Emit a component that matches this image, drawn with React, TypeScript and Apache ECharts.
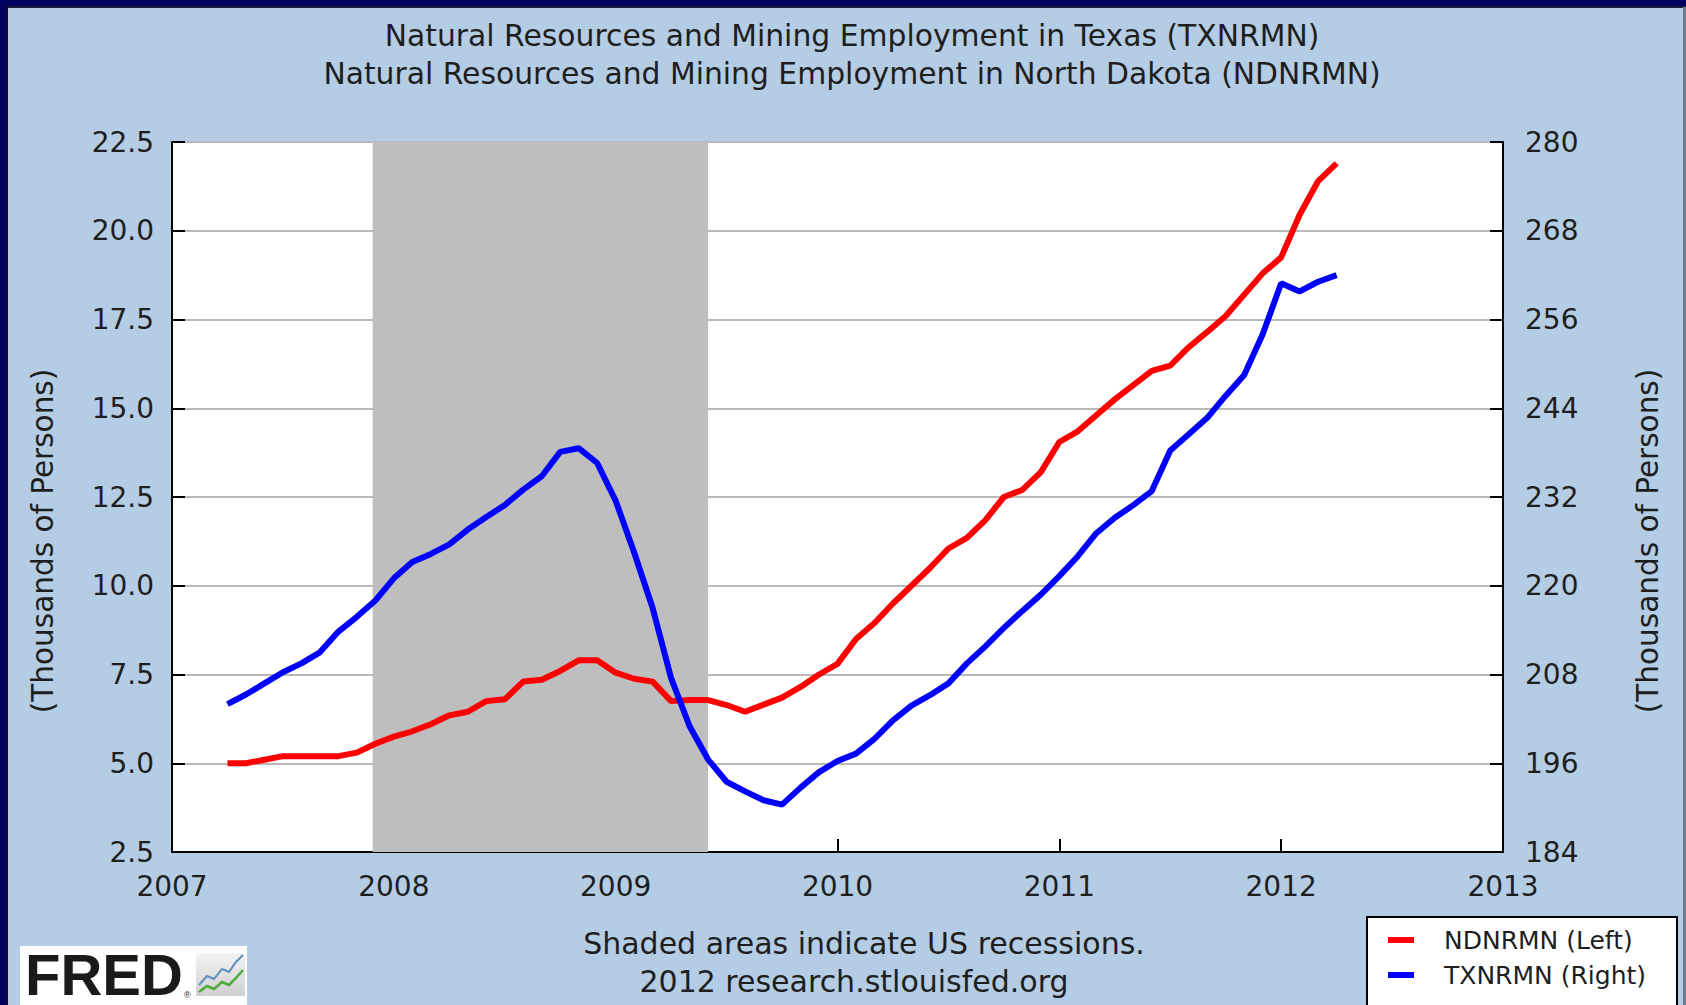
import React, { useEffect, useRef } from "react";
import * as echarts from "echarts";

// ---- data ----
const months = [
  "2007-04", "2007-05", "2007-06", "2007-07", "2007-08", "2007-09", "2007-10", "2007-11", "2007-12",
  "2008-01", "2008-02", "2008-03", "2008-04", "2008-05", "2008-06", "2008-07", "2008-08", "2008-09", "2008-10", "2008-11", "2008-12",
  "2009-01", "2009-02", "2009-03", "2009-04", "2009-05", "2009-06", "2009-07", "2009-08", "2009-09", "2009-10", "2009-11", "2009-12",
  "2010-01", "2010-02", "2010-03", "2010-04", "2010-05", "2010-06", "2010-07", "2010-08", "2010-09", "2010-10", "2010-11", "2010-12",
  "2011-01", "2011-02", "2011-03", "2011-04", "2011-05", "2011-06", "2011-07", "2011-08", "2011-09", "2011-10", "2011-11", "2011-12",
  "2012-01", "2012-02", "2012-03", "2012-04",
];

// North Dakota (left axis, thousands)
const ndnrmn = [
  5.0, 5.0, 5.1, 5.2, 5.2, 5.2, 5.2, 5.3, 5.55,
  5.75, 5.9, 6.1, 6.35, 6.45, 6.75, 6.8, 7.3, 7.35, 7.6, 7.9, 7.9,
  7.55, 7.38, 7.3, 6.75, 6.78, 6.78, 6.64, 6.45, 6.65, 6.85, 7.15, 7.5,
  7.8, 8.5, 8.95, 9.5, 10.0, 10.5, 11.05, 11.35, 11.85, 12.5, 12.7, 13.2,
  14.05, 14.35, 14.8, 15.25, 15.65, 16.05, 16.2, 16.72, 17.15, 17.6, 18.2, 18.8,
  19.25, 20.45, 21.4, 21.9,
];

// Texas (right axis, thousands)
const txnrmn = [
  204.0, 205.3, 206.8, 208.3, 209.5, 211.0, 213.8, 215.8, 218.0,
  221.0, 223.2, 224.3, 225.6, 227.6, 229.3, 230.9, 233.0, 234.8, 238.1, 238.6, 236.6,
  231.5, 224.5, 217.0, 207.5, 201.0, 196.5, 193.5, 192.2, 191.0, 190.4, 192.7, 194.8,
  196.3, 197.3, 199.3, 201.8, 203.8, 205.2, 206.8, 209.5, 211.8, 214.3, 216.6, 218.8,
  221.3, 224.0, 227.1, 229.2, 230.9, 232.8, 238.3, 240.5, 242.7, 245.7, 248.5, 254.0,
  260.9, 259.8, 261.1, 262.0,
];

const leftTicks = [2.5, 5.0, 7.5, 10.0, 12.5, 15.0, 17.5, 20.0, 22.5];
const rightTicks = [184, 196, 208, 220, 232, 244, 256, 268, 280];
const yearTicks = [2007, 2008, 2009, 2010, 2011, 2012, 2013];
const recession = ["2007-12", "2009-06"];

const titleLines = [
  "Natural Resources and Mining Employment in Texas (TXNRMN)",
  "Natural Resources and Mining Employment in North Dakota (NDNRMN)",
];
const axisTitle = "(Thousands of Persons)";
const footnote1 = "Shaded areas indicate US recessions.";
const footnote2 = "2012 research.stlouisfed.org";
const seriesNames = ["NDNRMN (Left)", "TXNRMN (Right)"];

const toYear = (s: string) => {
  const [y, m] = s.split("-").map(Number);
  return y + (m - 1) / 12;
};

const FONT = "DejaVu Sans";
const TXT = "#1e1e1e";

export default function App() {
  const ref = useRef<HTMLDivElement>(null);

  useEffect(() => {
    if (!ref.current) return;
    const chart = echarts.init(ref.current, null, { renderer: "svg" });

    const ndData = months.map((m, i) => [toYear(m), ndnrmn[i]]);
    const txData = months.map((m, i) => [toYear(m), txnrmn[i]]);

    const option: any = {
      animation: false,
      backgroundColor: "#B4CDE4",
      textStyle: { fontFamily: FONT },
      title: {
        text: titleLines.join("\n"),
        left: 852,
        textAlign: "center",
        top: 12,
        padding: [5, 0, 5, 0],
        textStyle: {
          fontFamily: FONT,
          fontSize: 29.8,
          fontWeight: "normal",
          color: TXT,
          lineHeight: 37.5,
        },
      },
      grid: {
        left: 172,
        right: 183,
        top: 142,
        bottom: 153,
        show: true,
        backgroundColor: "#ffffff",
        borderWidth: 0,
      },
      legend: {
        left: 1383,
        top: 921,
        orient: "vertical",
        itemWidth: 26,
        itemHeight: 6,
        itemGap: 7,
        icon: "rect",
        data: seriesNames,
        textStyle: {
          fontFamily: FONT,
          fontSize: 25,
          color: TXT,
          lineHeight: 28,
          padding: [0, 0, 0, 25],
        },
      },
      xAxis: {
        type: "value",
        min: yearTicks[0],
        max: yearTicks[yearTicks.length - 1],
        interval: 1,
        axisLine: { show: true, lineStyle: { color: "#000", width: 2 } },
        axisTick: { show: true, inside: true, length: 13, lineStyle: { color: "#000", width: 2 } },
        splitLine: { show: false },
        axisLabel: {
          margin: 20,
          fontFamily: FONT,
          fontSize: 28,
          color: TXT,
          formatter: (v: number) => String(Math.round(v)),
        },
      },
      yAxis: [
        {
          type: "value",
          position: "left",
          min: leftTicks[0],
          max: leftTicks[leftTicks.length - 1],
          interval: 2.5,
          name: axisTitle,
          nameLocation: "middle",
          nameRotate: 90,
          nameGap: 114,
          nameTextStyle: {
            fontFamily: FONT,
            fontSize: 29.5,
            color: TXT,
            padding: [0, 88, 0, 0],
          },
          axisLine: { show: true, lineStyle: { color: "#000", width: 2 } },
          axisTick: { show: true, inside: true, length: 13, lineStyle: { color: "#000", width: 2 } },
          splitLine: { show: true, lineStyle: { color: "#b9b9b9", width: 2 } },
          axisLabel: {
            margin: 18,
            fontFamily: FONT,
            fontSize: 28,
            color: TXT,
            formatter: (v: number) => v.toFixed(1),
          },
        },
        {
          type: "value",
          position: "right",
          min: rightTicks[0],
          max: rightTicks[rightTicks.length - 1],
          name: axisTitle,
          nameLocation: "middle",
          nameRotate: 90,
          nameGap: 130,
          nameTextStyle: {
            fontFamily: FONT,
            fontSize: 29.5,
            color: TXT,
            padding: [0, 88, 0, 0],
          },
          axisLine: { show: true, lineStyle: { color: "#000", width: 2 } },
          axisTick: {
            show: true,
            inside: true,
            length: 13,
            customValues: rightTicks,
            lineStyle: { color: "#000", width: 2 },
          },
          splitLine: { show: false },
          axisLabel: {
            margin: 22,
            fontFamily: FONT,
            fontSize: 28,
            color: TXT,
            customValues: rightTicks,
            formatter: (v: number) => String(v),
          },
        },
      ],
      series: [
        {
          name: "recession",
          type: "line",
          data: [],
          z: 1,
          silent: true,
          markArea: {
            silent: true,
            itemStyle: { color: "#BEBEBE" },
            data: [[{ xAxis: toYear(recession[0]) - 0.012 }, { xAxis: toYear(recession[1]) }]],
          },
        },
        {
          name: seriesNames[0],
          type: "line",
          yAxisIndex: 0,
          data: ndData,
          showSymbol: false,
          symbol: "none",
          z: 3,
          lineStyle: { color: "#FF0000", width: 6 },
          itemStyle: { color: "#FF0000" },
        },
        {
          name: seriesNames[1],
          type: "line",
          yAxisIndex: 1,
          data: txData,
          showSymbol: false,
          symbol: "none",
          z: 4,
          lineStyle: { color: "#0000FF", width: 6 },
          itemStyle: { color: "#0000FF" },
        },
      ],
      graphic: [
        // dark frame
        { type: "rect", z: -10, shape: { x: 0, y: 0, width: 1686, height: 7 }, style: { fill: "#00005e" } },
        { type: "rect", z: -10, shape: { x: 0, y: 6, width: 1686, height: 2 }, style: { fill: "#1a1a3a" } },
        { type: "rect", z: -10, shape: { x: 0, y: 0, width: 7, height: 1005 }, style: { fill: "#00005e" } },
        { type: "rect", z: -10, shape: { x: 6, y: 7, width: 2, height: 998 }, style: { fill: "#10102a" } },
        { type: "rect", z: -10, shape: { x: 1683, y: 7, width: 3, height: 998 }, style: { fill: "#6c7d90" } },
        // footnotes
        {
          type: "text",
          x: 864,
          y: 943,
          style: { text: footnote1, fill: TXT, font: `30px '${FONT}'`, textAlign: "center", textVerticalAlign: "middle" },
        },
        {
          type: "text",
          x: 854,
          y: 981,
          style: { text: footnote2, fill: TXT, font: `30px '${FONT}'`, textAlign: "center", textVerticalAlign: "middle" },
        },
        // legend box
        {
          type: "rect",
          z: 0,
          shape: { x: 1367, y: 917, width: 310, height: 100 },
          style: { fill: "#ffffff", stroke: "#000000", lineWidth: 2 },
        },
        // FRED logo
        {
          type: "group",
          children: [
            { type: "rect", shape: { x: 20, y: 946, width: 227, height: 59 }, style: { fill: "#ffffff" } },
            {
              type: "text",
              x: 25,
              y: 974,
              style: {
                text: "FRED",
                fill: "#1a1a1a",
                font: "bold 58px 'Liberation Sans'",
                lineHeight: 54,
                textVerticalAlign: "middle",
              },
            },
            {
              type: "text",
              x: 184,
              y: 990,
              style: { text: "®", fill: "#1a1a1a", font: "9px 'Liberation Sans'" },
            },
            {
              type: "rect",
              shape: { x: 196, y: 953, width: 49, height: 43 },
              style: {
                fill: new echarts.graphic.LinearGradient(0, 0, 0, 1, [
                  { offset: 0, color: "#f4f4f4" },
                  { offset: 1, color: "#cfcfcf" },
                ]),
              },
            },
            {
              type: "polyline",
              shape: { points: [[199, 985], [207, 976], [214, 979], [222, 969], [229, 972], [236, 962], [243, 955]] },
              style: { stroke: "#5b8fc0", lineWidth: 2, fill: "none" },
            },
            {
              type: "polyline",
              shape: { points: [[199, 992], [207, 986], [214, 989], [222, 982], [229, 985], [236, 978], [243, 970]] },
              style: { stroke: "#4caa3c", lineWidth: 2.5, fill: "none" },
            },
          ],
        },
      ],
    };

    chart.setOption(option);
    return () => chart.dispose();
  }, []);

  return (
    <div
      ref={ref}
      style={{ position: "fixed", left: 0, top: 0, width: 1686, height: 1005 }}
    />
  );
}
